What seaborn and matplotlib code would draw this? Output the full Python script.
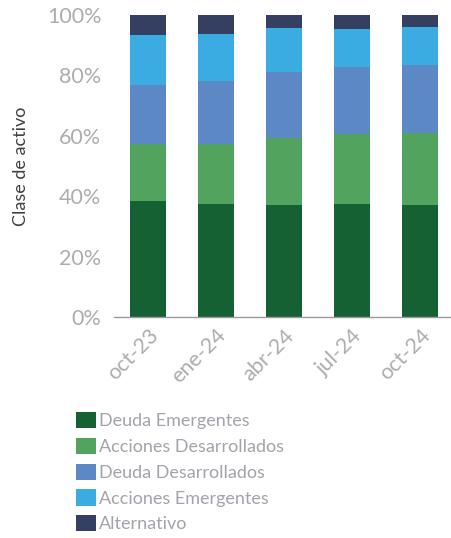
import matplotlib
matplotlib.use("Agg")
import matplotlib.pyplot as plt
import matplotlib.patches as mpatches
import matplotlib.transforms as mtransforms
import numpy as np
import pandas as pd
import seaborn as sns

# Quarter-end dates
periods = ["oct-23", "ene-24", "abr-24", "jul-24", "oct-24"]

# Allocation shares (%) by asset class, bottom to top
deuda_emergentes = [38.4, 37.4, 37.1, 37.4, 37.1]
acciones_desarrollados = [18.9, 19.9, 22.2, 23.2, 23.7]
deuda_desarrollados = [19.5, 20.8, 21.8, 22.2, 22.6]
acciones_emergentes = [16.6, 15.6, 14.6, 12.6, 12.6]
alternativo = [6.6, 6.3, 4.3, 4.6, 4.0]

series_names = ["Deuda Emergentes", "Acciones Desarrollados", "Deuda Desarrollados",
                "Acciones Emergentes", "Alternativo"]
series_values = [deuda_emergentes, acciones_desarrollados, deuda_desarrollados,
                 acciones_emergentes, alternativo]
colors = ["#166134", "#52a35e", "#5c89c5", "#3aace2", "#353f62"]

sns.set_theme(style="white")
plt.rcParams["font.family"] = ["Lato", "DejaVu Sans"]

tick_grey = "#adadad"
legend_grey = "#a2a4ab"

fig = plt.figure(figsize=(4.51, 5.38), dpi=100)
ax = fig.add_axes([114 / 451, 221 / 538, 340 / 451, 302 / 538])

df = pd.DataFrame({name: vals for name, vals in zip(series_names, series_values)})
df["periodo"] = periods
cum = df[series_names].cumsum(axis=1) / 100.0

# Stacked bars: draw cumulative totals from the top layer down
for name, color in reversed(list(zip(series_names, colors))):
    sns.barplot(x=df["periodo"], y=cum[name], color=color, width=0.515,
                saturation=1, ax=ax, linewidth=0)

ax.set_xlim(-0.5, 4.5)
ax.set_ylim(0, 1.0)
ax.set_yticks(np.linspace(0, 1, 6))
ax.set_yticklabels([f"{int(v)}%" for v in np.linspace(0, 100, 6)],
                   color=tick_grey, fontsize=15.5)
ax.set_xticks(range(len(periods)))
ax.set_xticklabels(periods, rotation=45, ha="right", va="top",
                   rotation_mode="anchor", color=tick_grey, fontsize=15.5)
shift = mtransforms.ScaledTranslation(17 / 100, 0, fig.dpi_scale_trans)
for lbl in ax.get_xticklabels():
    lbl.set_transform(lbl.get_transform() + shift)
ax.set_xticks(np.arange(-0.5, 5.0, 1.0), minor=True)
ax.tick_params(axis="x", which="major", length=0, pad=6)
ax.tick_params(axis="x", which="minor", length=12, width=1, color="#9a9a9a")
ax.tick_params(axis="y", length=0, pad=9)

for s in ["top", "right", "left"]:
    ax.spines[s].set_visible(False)
ax.spines["bottom"].set_color("#9a9a9a")
ax.spines["bottom"].set_linewidth(1)

ax.set_xlabel("")
ax.set_ylabel("Clase de activo", color="#404040", fontsize=13)
ax.yaxis.set_label_coords((29 - 114) / 340, 0.5)

handles = [mpatches.Patch(facecolor=c, edgecolor="none", label=n)
           for n, c in zip(series_names, colors)]
leg = fig.legend(handles=handles, loc="upper left",
                 bbox_to_anchor=(69 / 451, 1 - 405 / 538),
                 frameon=False, handlelength=1.1, handleheight=1.0,
                 prop={"size": 13},
                 handletextpad=0.15, labelspacing=0.47, borderaxespad=0)
for t in leg.get_texts():
    t.set_color(legend_grey)

fig.savefig("out.png", dpi=100)
